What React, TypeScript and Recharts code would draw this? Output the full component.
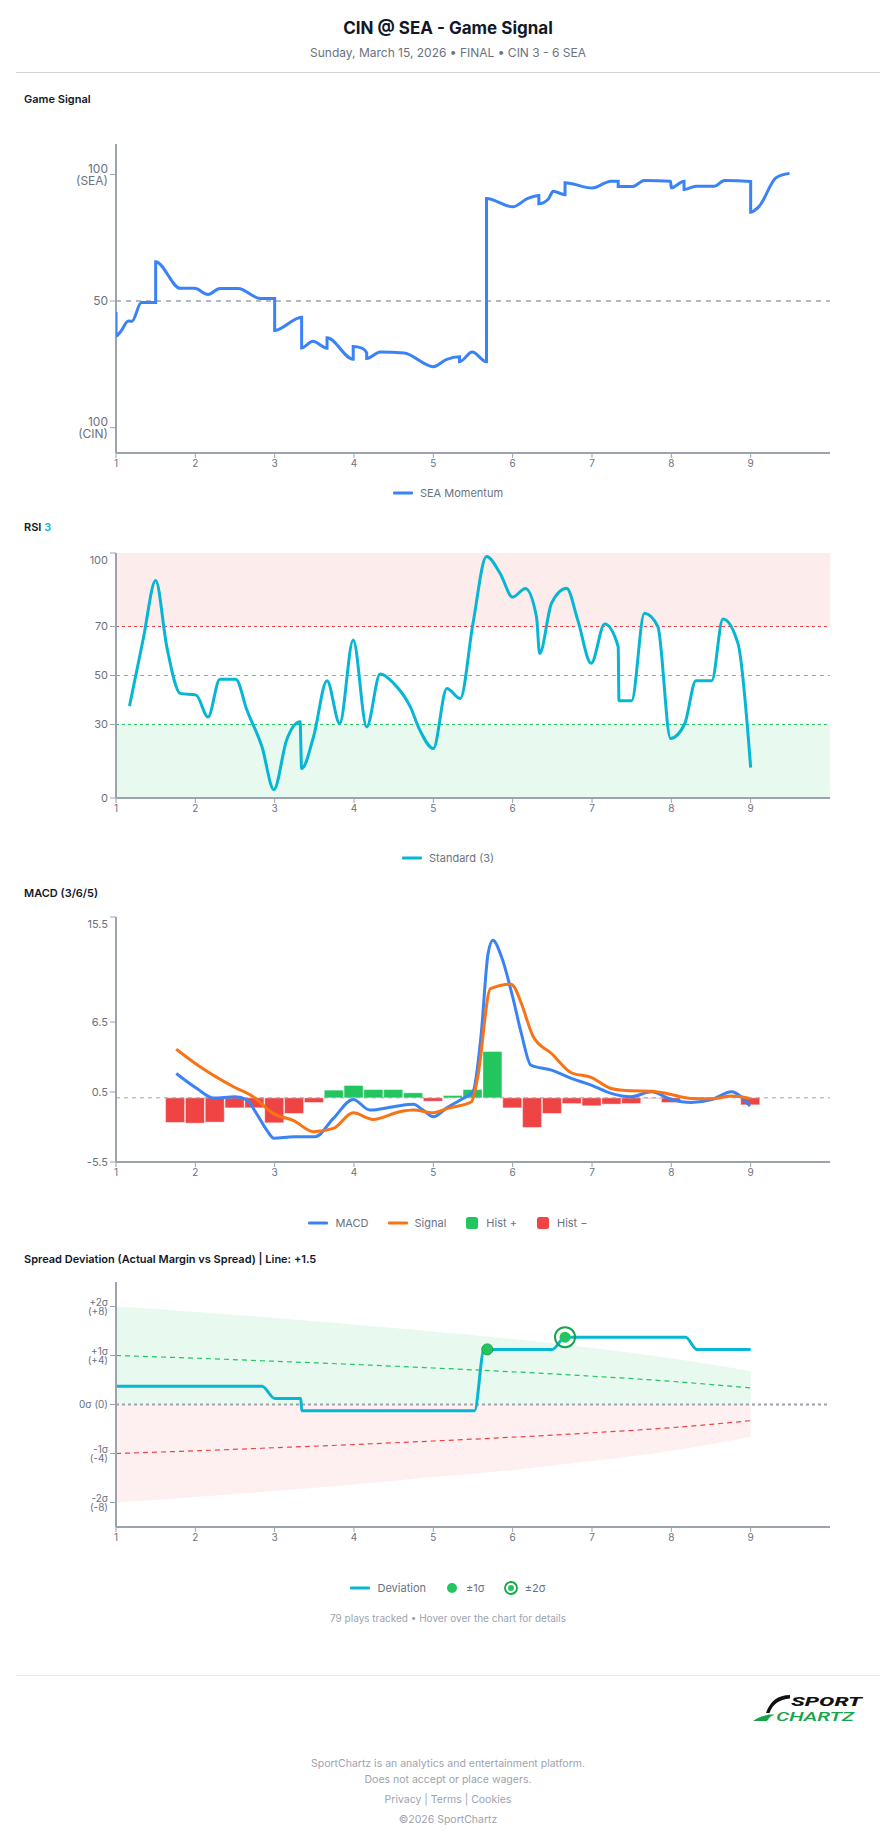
import React from 'react';
import {
  LineChart, ComposedChart, Line, Bar, Cell, Area, Scatter,
  XAxis, YAxis, CartesianGrid, ReferenceLine, ReferenceArea,
} from 'recharts';

const FONT = 'Inter, "Noto Sans", Arial, sans-serif';
const AX = '#9ca3af';
const TICK = '#6b7280';

// ---------------- data ----------------
const inningTicks = [1, 2, 3, 4, 5, 6, 7, 8, 9];

// Game signal (SEA momentum)
const signalX = [1.0, 1.0, 1.06, 1.155, 1.2, 1.32, 1.5, 1.5, 1.81, 1.99, 2.16, 2.31, 2.54, 2.82, 3.0, 3.0, 3.34, 3.34, 3.48, 3.66, 3.66, 3.99, 3.99, 4.1, 4.16, 4.16, 4.33, 4.63, 5.0, 5.17, 5.33, 5.33, 5.49, 5.67, 5.67, 6.0, 6.19, 6.33, 6.33, 6.45, 6.51, 6.66, 6.66, 7.0, 7.24, 7.33, 7.33, 7.51, 7.66, 7.99, 8.0, 8.16, 8.16, 8.31, 8.54, 8.67, 9.0, 9.0, 9.11, 9.32, 9.49];
const signalY = [45.7, 36.2, 38.0, 42.1, 42.0, 49.4, 49.4, 65.5, 55.0, 55.0, 52.6, 54.9, 54.9, 51.0, 51.0, 38.4, 43.6, 31.5, 34.1, 31.4, 35.5, 27.0, 32.0, 31.4, 29.6, 27.3, 29.9, 29.5, 24.1, 27.0, 28.0, 26.0, 29.9, 26.0, 90.5, 87.2, 90.5, 91.7, 88.4, 90.3, 93.3, 92.0, 96.7, 94.6, 97.3, 97.3, 95.2, 95.2, 97.6, 97.3, 94.7, 97.3, 94.0, 95.3, 95.3, 97.6, 97.2, 85.1, 87.5, 98.7, 100.4];
const signalTicks = [0, 50, 100];
const signalTickLabels: Record<string, string[]> = { '0': ['100', '(CIN)'], '50': ['50'], '100': ['100', '(SEA)'] };

// RSI (3)
const rsiX = [1.17, 1.345, 1.5, 1.64, 1.81, 2.01, 2.16, 2.31, 2.51, 2.65, 2.84, 2.99, 3.15, 3.32, 3.34, 3.49, 3.66, 3.82, 3.99, 4.16, 4.33, 4.5, 4.71, 4.83, 5.0, 5.17, 5.34, 5.5, 5.67, 5.84, 6.0, 6.16, 6.3, 6.34, 6.49, 6.68, 6.82, 6.99, 7.16, 7.33, 7.34, 7.5, 7.66, 7.83, 7.99, 8.17, 8.31, 8.51, 8.65, 8.84, 9.0];
const rsiY = [37.5, 65.2, 88.8, 61.8, 42.7, 42.0, 33.1, 48.5, 48.5, 35.9, 20.9, 3.4, 23.6, 31.1, 12.0, 25.0, 47.9, 30.4, 64.5, 29.0, 50.6, 46.8, 37.2, 27.7, 20.2, 44.7, 40.6, 71.3, 98.6, 91.8, 82.0, 85.5, 74.0, 59.0, 79.5, 85.6, 72.7, 55.0, 71.0, 61.8, 39.7, 39.7, 75.4, 70.0, 24.3, 30.4, 47.9, 47.9, 73.1, 63.1, 12.4];
const rsiTicks = [0, 30, 50, 70, 100];

// MACD (3/6/5)
const macdX = [1.76, 2.02, 2.23, 2.5, 2.65, 2.77, 2.9, 2.99, 3.24, 3.51, 3.74, 3.99, 4.2, 4.5, 4.75, 4.87, 5.0, 5.17, 5.35, 5.5, 5.6, 5.69, 5.75, 5.86, 6.0, 6.11, 6.23, 6.49, 6.74, 6.99, 7.24, 7.49, 7.75, 8.0, 8.25, 8.51, 8.76, 8.88, 8.99];
const macdY = [2.09, 0.8, -0.02, 0.09, -0.19, -1.33, -2.76, -3.47, -3.33, -3.33, -1.76, -0.14, -1.05, -0.76, -0.56, -1.05, -1.62, -0.85, -0.14, 0.52, 5.23, 12.36, 13.5, 12.07, 8.65, 5.5, 2.8, 2.37, 1.66, 1.09, 0.38, 0.09, 0.52, -0.14, -0.39, -0.14, 0.52, 0.09, -0.71];
const macdSignalX = [1.76, 2.06, 2.48, 2.73, 2.98, 3.24, 3.49, 3.74, 3.99, 4.24, 4.58, 4.75, 5.0, 5.18, 5.48, 5.56, 5.72, 5.98, 6.02, 6.11, 6.26, 6.49, 6.74, 6.99, 7.24, 7.49, 7.75, 8.0, 8.25, 8.51, 8.76, 8.99];
const macdSignalY = [4.17, 2.66, 0.95, 0.09, -1.33, -1.96, -2.9, -2.62, -1.28, -1.85, -1.19, -1.05, -1.28, -0.9, -0.34, 1.8, 9.36, 9.74, 9.5, 8.08, 5.23, 3.8, 2.15, 1.75, 0.8, 0.6, 0.57, 0.29, -0.05, -0.08, 0.15, -0.05];
const histX = [1.75, 2.0, 2.25, 2.5, 2.75, 3.0, 3.25, 3.5, 3.75, 4.0, 4.25, 4.5, 4.75, 5.0, 5.25, 5.5, 5.75, 6.0, 6.25, 6.5, 6.75, 7.0, 7.25, 7.5, 7.75, 8.0, 8.25, 8.5, 8.75, 9.0];
const histY = [-2.11, -2.17, -2.08, -0.86, -0.86, -2.14, -1.34, -0.4, 0.66, 1.06, 0.71, 0.71, 0.43, -0.29, 0.2, 0.71, 3.97, -0.86, -2.54, -1.34, -0.49, -0.68, -0.54, -0.49, -0.05, -0.4, -0.06, -0.03, 0.05, -0.6];
const macdTicks = [-5.5, 0.5, 6.5, 15.5];

// Spread deviation
const bandX = [1, 2, 3, 4, 5, 6, 7, 8, 8.5, 9];
const oneSigmaUp = [4.0, 3.78, 3.53, 3.27, 2.98, 2.67, 2.31, 1.89, 1.63, 1.36];
const oneSigmaDown = [-4.0, -3.78, -3.53, -3.27, -2.98, -2.67, -2.31, -1.89, -1.62, -1.32];
const twoSigmaUp = [8.0, 7.56, 7.06, 6.54, 5.96, 5.34, 4.62, 3.78, 3.27, 2.72];
const twoSigmaDown = [-8.0, -7.56, -7.06, -6.54, -5.92, -5.34, -4.62, -3.78, -3.24, -2.64];
const devX = [1, 2.84, 3.0, 3.33, 3.34, 5.52, 5.64, 5.68, 6.5, 6.66, 8.18, 8.32, 9.0];
const devY = [1.5, 1.5, 0.5, 0.5, -0.5, -0.5, 4.5, 4.5, 4.5, 5.5, 5.5, 4.5, 4.5];
const oneSigmaHitX = [5.68];
const oneSigmaHitY = [4.5];
const twoSigmaHitX = [6.66];
const twoSigmaHitY = [5.5];
const spreadTicks = [-8, -4, 0, 4, 8];
const spreadTickLabels: Record<string, string[]> = {
  '8': ['+2σ', '(+8)'], '4': ['+1σ', '(+4)'], '0': ['0σ (0)'], '-4': ['-1σ', '(-4)'], '-8': ['-2σ', '(-8)'],
};

// ---------------- derived tables ----------------
const signalData = signalX.map((x, i) => ({ x, v: signalY[i] }));
const rsiData = rsiX.map((x, i) => ({ x, v: rsiY[i] }));
const macdData = macdX.map((x, i) => ({ x, v: macdY[i] }));
const macdSignalData = macdSignalX.map((x, i) => ({ x, v: macdSignalY[i] }));
const histData = histX.map((x, i) => ({ x, h: histY[i] }));
const bandData = bandX.map((x, i) => ({ x, up1: oneSigmaUp[i], dn1: oneSigmaDown[i], up2: twoSigmaUp[i], dn2: twoSigmaDown[i] }));
const devData = devX.map((x, i) => ({ x, v: devY[i] }));
const oneSigmaHits = oneSigmaHitX.map((x, i) => ({ x, v: oneSigmaHitY[i] }));
const twoSigmaHits = twoSigmaHitX.map((x, i) => ({ x, v: twoSigmaHitY[i] }));

// ---------------- helpers ----------------
function StackTick(props: any) {
  const { x, y, payload, labels, fontSize, lineHeight, topValue, topShift } = props;
  const key = String(payload.value);
  const lines: string[] = (labels && labels[key]) || [key];
  const shift = payload.value === topValue ? topShift || 0 : 0;
  const first = y + shift + fontSize * 0.36 - ((lines.length - 1) * lineHeight) / 2;
  return (
    <text x={x} y={first} textAnchor="end" fill={TICK} fontSize={fontSize} fontFamily={FONT}>
      {lines.map((l, i) => (
        <tspan key={i} x={x} dy={i === 0 ? 0 : lineHeight}>{l}</tspan>
      ))}
    </text>
  );
}

// vertical grid only at the inning ticks (through the axis scale)
const inningGrid = (props: any) => {
  const axis = props && props.xAxis;
  if (axis && typeof axis.scale === 'function') {
    return inningTicks.map((t) => axis.scale(t));
  }
  return [];
};

function Grid() {
  return (
    <CartesianGrid
      vertical
      horizontal={false}
      stroke={AX}
      strokeDasharray="4 4"
      verticalCoordinatesGenerator={inningGrid}
    />
  );
}

const xAxisCommon: any = {
  type: 'number',
  dataKey: 'x',
  domain: [1, 10],
  ticks: inningTicks,
  interval: 0,
  height: 30,
  allowDataOverflow: true,
  axisLine: { stroke: AX, strokeWidth: 2 },
  tickLine: { stroke: AX },
  tickSize: 5,
  tick: { fill: TICK, fontSize: 10, fontFamily: FONT },
};

const yAxisCommon: any = {
  type: 'number',
  width: 116,
  allowDataOverflow: true,
  axisLine: { stroke: AX, strokeWidth: 2 },
  tickLine: { stroke: AX },
  tickSize: 6,
  interval: 0,
};

const MARGIN = { right: 66, left: 0, bottom: 0 };

type LegendItem = { label: string; kind: 'line' | 'square' | 'dot' | 'ring'; color: string };

function Legend({ y, items }: { y: number; items: LegendItem[] }) {
  return (
    <div style={{
      position: 'absolute', left: 0, width: 896, top: y - 9, height: 18,
      display: 'flex', justifyContent: 'center', alignItems: 'center', gap: 19,
      fontFamily: FONT, fontSize: 11, color: TICK,
    }}>
      {items.map((it) => (
        <div key={it.label} style={{ display: 'flex', alignItems: 'center', gap: 7 }}>
          <svg width={it.kind === 'line' ? 20 : 14} height={14} style={{ display: 'block' }}>
            {it.kind === 'line' && <rect x={0} y={5.5} width={20} height={3} rx={1} fill={it.color} />}
            {it.kind === 'square' && <rect x={1} y={1} width={12} height={12} rx={2.5} fill={it.color} />}
            {it.kind === 'dot' && <circle cx={7} cy={7} r={5} fill={it.color} />}
            {it.kind === 'ring' && (
              <g>
                <circle cx={7} cy={7} r={6} fill="none" stroke="#16a34a" strokeWidth={1.8} />
                <circle cx={7} cy={7} r={3} fill={it.color} />
              </g>
            )}
          </svg>
          <span>{it.label}</span>
        </div>
      ))}
    </div>
  );
}

function Txt({ y, size, children, style }: { y: number; size: number; children: React.ReactNode; style?: React.CSSProperties }) {
  return (
    <div style={{
      position: 'absolute', left: 0, width: 896, top: y - size * 0.6, lineHeight: `${size * 1.2}px`,
      fontSize: size, fontFamily: FONT, textAlign: 'center', whiteSpace: 'nowrap', ...style,
    }}>{children}</div>
  );
}

function SectionTitle({ y, children }: { y: number; children: React.ReactNode }) {
  return (
    <div style={{
      position: 'absolute', left: 24, top: y - 7, lineHeight: '14px', fontSize: 11,
      fontWeight: 600, color: '#111827', fontFamily: FONT, whiteSpace: 'nowrap',
    }}>{children}</div>
  );
}

// ---------------- charts ----------------
function SignalChart() {
  return (
    <div style={{ position: 'absolute', left: 0, top: 120 }}>
      <LineChart width={896} height={363} data={signalData} margin={{ ...MARGIN, top: 24 }} style={{ fontFamily: FONT }}>
        {Grid()}
        <XAxis {...xAxisCommon} />
        <YAxis
          {...yAxisCommon}
          domain={[-10, 112]}
          ticks={signalTicks}
          tick={(p: any) => <StackTick {...p} labels={signalTickLabels} fontSize={12} lineHeight={11.7} />}
        />
        <ReferenceLine y={50} stroke={AX} strokeDasharray="5 5" strokeWidth={1.5} />
        <Line type="monotone" dataKey="v" stroke="#3b82f6" strokeWidth={3} dot={false} isAnimationActive={false} {...({ zIndex: 600 } as any)} />
      </LineChart>
    </div>
  );
}

function RsiChart() {
  return (
    <div style={{ position: 'absolute', left: 0, top: 530 }}>
      <ComposedChart width={896} height={298} data={rsiData} margin={{ ...MARGIN, top: 23 }} style={{ fontFamily: FONT }}>
        <ReferenceArea y1={70} y2={100} fill="#ef4444" fillOpacity={0.1} stroke="none" />
        <ReferenceArea y1={0} y2={30} fill="#22c55e" fillOpacity={0.1} stroke="none" />
        {Grid()}
        <XAxis {...xAxisCommon} />
        <YAxis
          {...yAxisCommon}
          domain={[0, 100]}
          ticks={rsiTicks}
          tick={(p: any) => <StackTick {...p} fontSize={11} lineHeight={11} topValue={100} topShift={7} />}
        />
        <ReferenceLine y={70} stroke="#ef4444" strokeDasharray="3 3" />
        <ReferenceLine y={50} stroke={AX} strokeDasharray="4 4" />
        <ReferenceLine y={30} stroke="#22c55e" strokeDasharray="3 3" />
        <Line type="monotone" dataKey="v" stroke="#06b6d4" strokeWidth={3} dot={false} isAnimationActive={false} />
      </ComposedChart>
    </div>
  );
}

function MacdChart() {
  return (
    <div style={{ position: 'absolute', left: 0, top: 895 }}>
      <ComposedChart width={896} height={297} data={histData} margin={{ ...MARGIN, top: 22 }} style={{ fontFamily: FONT }}>
        {Grid()}
        <XAxis {...xAxisCommon} />
        <XAxis xAxisId="hist" type="number" dataKey="x" domain={[1, 10]} hide allowDataOverflow />
        <YAxis
          {...yAxisCommon}
          domain={[-5.5, 15.5]}
          ticks={macdTicks}
          tick={(p: any) => <StackTick {...p} fontSize={11} lineHeight={11} topValue={15.5} topShift={7} />}
        />
        <ReferenceLine y={0} stroke={AX} strokeDasharray="4 4" />
        <Bar xAxisId="hist" dataKey="h" barSize={19} isAnimationActive={false} stroke="#ffffff" strokeOpacity={0.5} strokeWidth={0.8}>
          {histData.map((d, i) => (
            <Cell key={i} fill={d.h >= 0 ? '#22c55e' : '#ef4444'} />
          ))}
        </Bar>
        <Line data={macdData} type="monotone" dataKey="v" stroke="#3b82f6" strokeWidth={3} dot={false} isAnimationActive={false} />
        <Line data={macdSignalData} type="monotone" dataKey="v" stroke="#f97316" strokeWidth={3} dot={false} isAnimationActive={false} />
      </ComposedChart>
    </div>
  );
}

function SpreadChart() {
  return (
    <div style={{ position: 'absolute', left: 0, top: 1262 }}>
      <ComposedChart width={896} height={295} data={bandData} margin={{ ...MARGIN, top: 20 }} style={{ fontFamily: FONT }}>
        <Area type="monotone" dataKey="up2" baseValue={0} fill="#22c55e" fillOpacity={0.1} stroke="none" isAnimationActive={false} />
        <Area type="monotone" dataKey="dn2" baseValue={0} fill="#ef4444" fillOpacity={0.08} stroke="none" isAnimationActive={false} />
        {Grid()}
        <XAxis {...xAxisCommon} />
        <YAxis
          {...yAxisCommon}
          domain={[-10, 10]}
          ticks={spreadTicks}
          tick={(p: any) => <StackTick {...p} labels={spreadTickLabels} fontSize={10} lineHeight={8.8} />}
        />
        <ReferenceLine y={0} stroke={AX} strokeDasharray="3 3" strokeWidth={2} />
        <Line type="monotone" dataKey="up1" stroke="#22c55e" strokeDasharray="5 4" strokeWidth={1.2} dot={false} isAnimationActive={false} />
        <Line type="monotone" dataKey="dn1" stroke="#ef4444" strokeDasharray="5 4" strokeWidth={1.2} dot={false} isAnimationActive={false} />
        <Line data={devData} type="monotone" dataKey="v" stroke="#06b6d4" strokeWidth={3} dot={false} isAnimationActive={false} />
        <Scatter
          data={oneSigmaHits}
          dataKey="v"
          isAnimationActive={false}
          shape={(p: any) => <circle cx={p.cx} cy={p.cy} r={5.5} fill="#22c55e" stroke="#16a34a" strokeWidth={1} />}
        />
        <Scatter
          data={twoSigmaHits}
          dataKey="v"
          isAnimationActive={false}
          shape={(p: any) => (
            <g>
              <circle cx={p.cx} cy={p.cy} r={10} fill="none" stroke="#16a34a" strokeWidth={2} />
              <circle cx={p.cx} cy={p.cy} r={5.5} fill="#22c55e" />
            </g>
          )}
        />
      </ComposedChart>
    </div>
  );
}

function Logo() {
  return (
    <svg width={120} height={40} style={{ position: 'absolute', left: 750, top: 1689 }}>
      <path d="M40 6 C28 6 20 12 16 24 L19.5 24 C23 15 29 10.5 40 9.5 Z" fill="#111111" />
      <path d="M3 32 L17 32 C19 28.5 21.5 26.5 25 25.5 L19 25.5 C12 27 7 29 3 32 Z" fill="#16a34a" />
      <text x={41} y={16.5} fontSize={13} fontWeight={800} fontStyle="italic" fill="#111111" fontFamily="Roboto, Arial, sans-serif" textLength={71} lengthAdjust="spacingAndGlyphs">SPORT</text>
      <text x={26} y={32} fontSize={13} fontWeight={500} fontStyle="italic" fill="#16a34a" fontFamily="Roboto, Arial, sans-serif" textLength={78} lengthAdjust="spacingAndGlyphs">CHARTZ</text>
    </svg>
  );
}

export default function App() {
  return (
    <div style={{ position: 'relative', width: 896, height: 1845, background: '#ffffff', overflow: 'hidden', fontFamily: FONT }}>
      <style>{'body{margin:0;background:#fff}'}</style>

      <Txt y={28} size={17} style={{ fontWeight: 700, color: '#111827' }}>CIN @ SEA - Game Signal</Txt>
      <Txt y={53} size={12} style={{ color: TICK }}>Sunday, March 15, 2026 • FINAL • CIN 3 - 6 SEA</Txt>
      <div style={{ position: 'absolute', left: 16, width: 864, top: 72, height: 1, background: '#d1d5db' }} />

      <SectionTitle y={99}>Game Signal</SectionTitle>
      <SignalChart />
      <Legend y={493} items={[{ label: 'SEA Momentum', kind: 'line', color: '#3b82f6' }]} />

      <SectionTitle y={527}>RSI <span style={{ color: '#06b6d4' }}>3</span></SectionTitle>
      <RsiChart />
      <Legend y={858} items={[{ label: 'Standard (3)', kind: 'line', color: '#06b6d4' }]} />

      <SectionTitle y={893}>MACD (3/6/5)</SectionTitle>
      <MacdChart />
      <Legend
        y={1223}
        items={[
          { label: 'MACD', kind: 'line', color: '#3b82f6' },
          { label: 'Signal', kind: 'line', color: '#f97316' },
          { label: 'Hist +', kind: 'square', color: '#22c55e' },
          { label: 'Hist −', kind: 'square', color: '#ef4444' },
        ]}
      />

      <SectionTitle y={1259}>Spread Deviation (Actual Margin vs Spread) | Line: +1.5</SectionTitle>
      <SpreadChart />
      <Legend
        y={1588}
        items={[
          { label: 'Deviation', kind: 'line', color: '#06b6d4' },
          { label: '±1σ', kind: 'dot', color: '#22c55e' },
          { label: '±2σ', kind: 'ring', color: '#22c55e' },
        ]}
      />
      <Txt y={1618} size={10} style={{ color: '#9ca3af' }}>79 plays tracked • Hover over the chart for details</Txt>

      <div style={{ position: 'absolute', left: 16, width: 864, top: 1675, height: 1, background: '#e5e7eb' }} />
      <Logo />
      <Txt y={1764} size={10.5} style={{ color: '#9ca3af' }}>SportChartz is an analytics and entertainment platform.</Txt>
      <Txt y={1780} size={10.5} style={{ color: '#9ca3af' }}>Does not accept or place wagers.</Txt>
      <Txt y={1800} size={10.5} style={{ color: '#9ca3af' }}>Privacy | Terms | Cookies</Txt>
      <Txt y={1820} size={10.5} style={{ color: '#9ca3af' }}>©2026 SportChartz</Txt>
    </div>
  );
}
